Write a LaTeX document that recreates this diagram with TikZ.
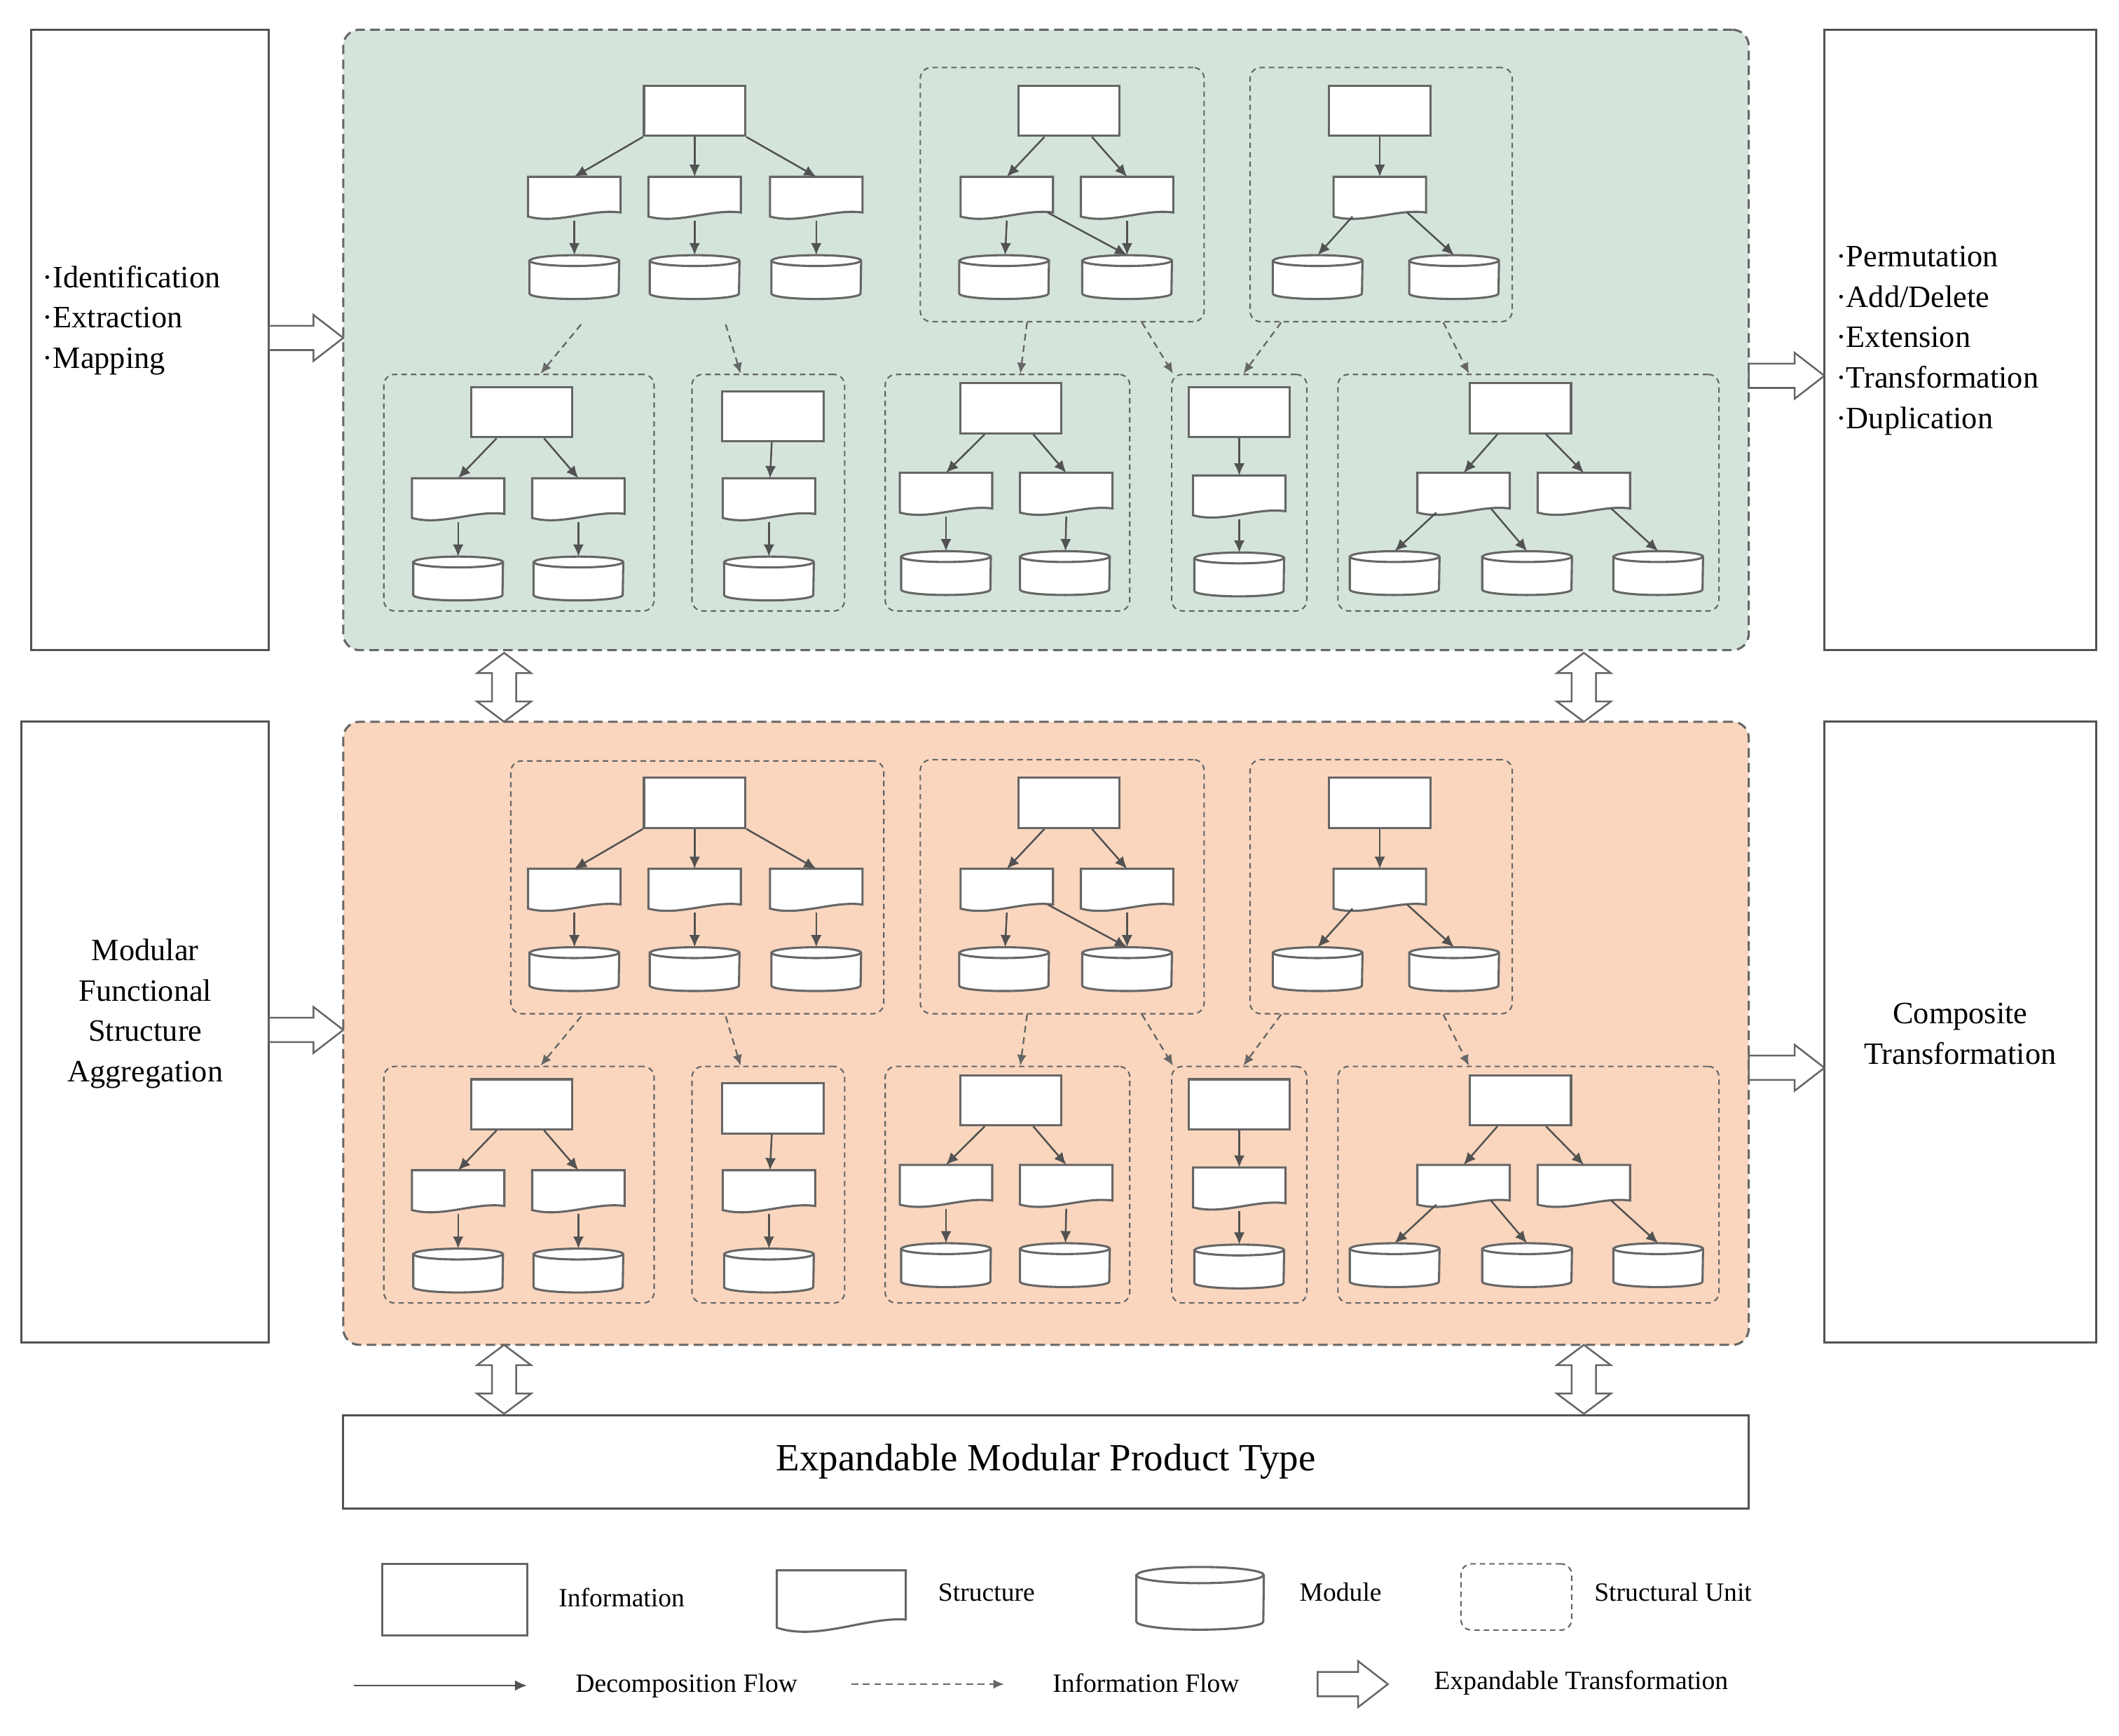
\documentclass[tikz,border=0pt]{standalone}
\usepackage{fontspec}
\setmainfont{Liberation Serif}
\usetikzlibrary{arrows.meta,calc}
\definecolor{ln}{HTML}{666666}
\definecolor{gr}{HTML}{D4E4DA}
\definecolor{og}{HTML}{FAD6BE}
\tikzset{
 info/.style={draw=ln,line width=1.6pt,fill=white,minimum width=75pt,minimum height=37pt,inner sep=0pt},
 stn/.style={minimum width=68pt,minimum height=32pt,inner sep=0pt},
 cyn/.style={minimum width=66pt,minimum height=32pt,inner sep=0pt},
 shp/.style={draw=ln,line width=1.6pt,fill=white},
 dec/.style={draw=ln!80!black,line width=1.3pt,-{Latex[length=9pt,width=8pt]}},
 flow/.style={draw=ln,line width=1.2pt,dash pattern=on 5pt off 3.5pt,-{Latex[length=8pt,width=7pt]}},
 unit/.style={draw=ln,line width=1.1pt,dash pattern=on 4pt off 3pt,rounded corners=8pt,inner sep=0pt},
 panel/.style={draw=ln,line width=1.6pt,dash pattern=on 7pt off 4pt,rounded corners=12pt},
 side/.style={draw=ln!80!black,line width=1.6pt,fill=white},
 hol/.style={draw=ln,line width=1.3pt,fill=white},
 txt/.style={font=\fontsize{23}{30}\selectfont},
 leg/.style={font=\fontsize{19.5}{22}\selectfont}
}
\newcommand\infobox[3]{\node[info] (#1) at (#2,#3) {};}
\newcommand\stru[3]{\node[stn] (#1) at (#2,#3) {};
 \draw[shp] (#1.north west) -- (#1.north east) -- ([yshift=6pt]#1.south east)
  .. controls ([xshift=-22pt,yshift=9pt]#1.south east) and ([xshift=22pt,yshift=-3pt]#1.south west) .. ([yshift=3pt]#1.south west) -- cycle;}
\newcommand\cyl[3]{\node[cyn] (#1) at (#2,#3) {};
 \draw[shp] ([yshift=-4pt]#1.north west) -- ([yshift=4pt]#1.south west) arc[start angle=180,end angle=360,x radius=33pt,y radius=4pt] -- ([yshift=-4pt]#1.north east) arc[start angle=0,end angle=180,x radius=33pt,y radius=4pt] -- cycle;
 \draw[draw=ln,line width=1.6pt] ([yshift=-4pt]#1.north west) arc[start angle=180,end angle=360,x radius=33pt,y radius=4pt];}
\newcommand\harr[3]{\draw[hol] (#1,#2-9) -- (#1+#3-22,#2-9) -- (#1+#3-22,#2-17) -- (#1+#3,#2) -- (#1+#3-22,#2+17) -- (#1+#3-22,#2+9) -- (#1,#2+9) -- cycle;}
\newcommand\varr[3]{\draw[hol] (#1-9,#2+15) -- (#1-20,#2+15) -- (#1,#2) -- (#1+20,#2+15) -- (#1+9,#2+15) -- (#1+9,#3-15) -- (#1+20,#3-15) -- (#1,#3) -- (#1-20,#3-15) -- (#1-9,#3-15) -- cycle;}
\newcommand\contents[2]{%
 \infobox{#1Ai}{514}{82+#2}
 \stru{#1As1}{425}{147+#2}\stru{#1As2}{514}{147+#2}\stru{#1As3}{604}{147+#2}
 \cyl{#1Ac1}{425}{205+#2}\cyl{#1Ac2}{514}{205+#2}\cyl{#1Ac3}{604}{205+#2}
 \draw[dec] (#1Ai.south west) -- (#1As1.north);\draw[dec] (#1Ai) -- (#1As2);\draw[dec] (#1Ai.south east) -- (#1As3.north);
 \draw[dec] (#1As1.south) -- (#1Ac1);\draw[dec] (#1As2.south) -- (#1Ac2);\draw[dec] (#1As3.south) -- (#1Ac3);
 \node[unit,minimum width=210pt,minimum height=188pt] (#1Bu) at (786,144+#2) {};
 \infobox{#1Bi}{791}{82+#2}
 \stru{#1Bs1}{745}{147+#2}\stru{#1Bs2}{834}{147+#2}
 \cyl{#1Bc1}{743}{205+#2}\cyl{#1Bc2}{834}{205+#2}
 \draw[dec] (#1Bi) -- (#1Bs1.north);\draw[dec] (#1Bi) -- (#1Bs2.north);
 \draw[dec] (#1Bs1.south) -- (#1Bc1);\draw[dec] ([xshift=-4pt,yshift=6pt]#1Bs1.south east) -- (#1Bc2.north);\draw[dec] (#1Bs2.south) -- (#1Bc2);
 \node[unit,minimum width=194pt,minimum height=188pt] (#1Cu) at (1022,144+#2) {};
 \infobox{#1Ci}{1021}{82+#2}
 \stru{#1Cs1}{1021}{147+#2}
 \cyl{#1Cc1}{975}{205+#2}\cyl{#1Cc2}{1076}{205+#2}
 \draw[dec] (#1Ci) -- (#1Cs1);
 \draw[dec] ([xshift=14pt,yshift=3pt]#1Cs1.south west) -- (#1Cc1.north);\draw[dec] ([xshift=-14pt,yshift=6pt]#1Cs1.south east) -- (#1Cc2.north);
 \node[unit,minimum width=200pt,minimum height=175pt] (#1U1) at (384,364.5+#2) {};
 \infobox{#1U1i}{386}{305+#2}
 \stru{#1U1s1}{339}{370+#2}\stru{#1U1s2}{428}{370+#2}
 \cyl{#1U1c1}{339}{428+#2}\cyl{#1U1c2}{428}{428+#2}
 \draw[dec] (#1U1i) -- (#1U1s1.north);\draw[dec] (#1U1i) -- (#1U1s2.north);
 \draw[dec] (#1U1s1.south) -- (#1U1c1);\draw[dec] (#1U1s2.south) -- (#1U1c2);
 \node[unit,minimum width=113pt,minimum height=175pt] (#1U2) at (568.5,364.5+#2) {};
 \infobox{#1U2i}{572}{308+#2}\stru{#1U2s1}{569}{370+#2}\cyl{#1U2c1}{569}{428+#2}
 \draw[dec] (#1U2i) -- (#1U2s1);\draw[dec] (#1U2s1.south) -- (#1U2c1);
 \node[unit,minimum width=181pt,minimum height=175pt] (#1U3) at (745.5,364.5+#2) {};
 \infobox{#1U3i}{748}{302+#2}
 \stru{#1U3s1}{700}{366+#2}\stru{#1U3s2}{789}{366+#2}
 \cyl{#1U3c1}{700}{424+#2}\cyl{#1U3c2}{788}{424+#2}
 \draw[dec] (#1U3i) -- (#1U3s1.north);\draw[dec] (#1U3i) -- (#1U3s2.north);
 \draw[dec] (#1U3s1.south) -- (#1U3c1);\draw[dec] (#1U3s2.south) -- (#1U3c2);
 \node[unit,minimum width=100pt,minimum height=175pt] (#1U4) at (917,364.5+#2) {};
 \infobox{#1U4i}{917}{305+#2}\stru{#1U4s1}{917}{368+#2}\cyl{#1U4c1}{917}{425+#2}
 \draw[dec] (#1U4i) -- (#1U4s1);\draw[dec] (#1U4s1.south) -- (#1U4c1);
 \node[unit,minimum width=282pt,minimum height=175pt] (#1U5) at (1131,364.5+#2) {};
 \infobox{#1U5i}{1125}{302+#2}
 \stru{#1U5s1}{1083}{366+#2}\stru{#1U5s2}{1172}{366+#2}
 \cyl{#1U5c1}{1032}{424+#2}\cyl{#1U5c2}{1130}{424+#2}\cyl{#1U5c3}{1227}{424+#2}
 \draw[dec] (#1U5i) -- (#1U5s1.north);\draw[dec] (#1U5i) -- (#1U5s2.north);
 \draw[dec] ([xshift=14pt,yshift=3pt]#1U5s1.south west) -- (#1U5c1.north);\draw[dec] ([xshift=-14pt,yshift=6pt]#1U5s1.south east) -- (#1U5c2.north);\draw[dec] ([xshift=-14pt,yshift=6pt]#1U5s2.south east) -- (#1U5c3.north);
 \coordinate (#1f1) at (430,240+#2);\coordinate (#1f2) at (537,240+#2);
 \draw[flow] (#1f1) -- (#1U1.north -| 400,0);
 \draw[flow] (#1f2) -- (#1U2.north -| 548,0);
 \draw[flow] (#1Bu.south -| 760,0) -- (#1U3.north -| 755,0);
 \draw[flow] (#1Bu.south -| 845,0) -- (#1U4.north -| 868,0);
 \draw[flow] (#1Cu.south -| 948,0) -- (#1U4.north -| 920,0);
 \draw[flow] (#1Cu.south -| 1068,0) -- (#1U5.north -| 1087,0);
}
\begin{document}
\begin{tikzpicture}[x=1pt,y=-1pt]
\useasboundingbox (0,0) rectangle (1568,1284);
\fill[white] (0,0) rectangle (1568,1284);
\node[side,minimum width=176pt,minimum height=459pt] (L1) at (111,251.5) {};
\node[side,minimum width=183pt,minimum height=459pt] (L2) at (107.5,763.5) {};
\node[side,minimum width=201pt,minimum height=459pt] (R1) at (1450.5,251.5) {};
\node[side,minimum width=201pt,minimum height=459pt] (R2) at (1450.5,763.5) {};
\node[txt,align=left,anchor=west] (t1) at (28,237) {·Identification\\·Extraction\\·Mapping};
\node[txt,align=left,anchor=west] (t2) at (1355,252) {·Permutation\\·Add/Delete\\·Extension\\·Transformation\\·Duplication};
\node[txt,align=center] (t3) at (107.5,750) {Modular\\Functional\\Structure\\Aggregation};
\node[txt,align=center] (t4) at (1450.5,765) {Composite\\Transformation};
\node[panel,fill=gr,minimum width=1040pt,minimum height=459pt] (P1) at (774,251.5) {};
\node[panel,fill=og,minimum width=1040pt,minimum height=461pt] (P2) at (774,764.5) {};
\node[unit,minimum width=276pt,minimum height=187pt] (oAu) at (516,656.5) {};
\contents{g}{0}
\contents{o}{512}
\node[side,minimum width=1040pt,minimum height=69pt,font=\fontsize{28.5}{32}\selectfont] (B) at (774,1081.5) {Expandable Modular Product Type};
\harr{199}{250}{55}
\harr{1294}{278}{56}
\harr{199}{762}{55}
\harr{1294}{790}{56}
\varr{373}{483}{534}
\varr{1172}{483}{534}
\varr{373}{995}{1046}
\varr{1172}{995}{1046}
\node[info,minimum width=107pt,minimum height=53pt] (lg1) at (336.5,1183.5) {};
\node[leg] (lt1) at (460,1182) {Information};
\node[stn,minimum width=95pt,minimum height=46pt] (lg2) at (622.5,1185) {};
\draw[shp] (lg2.north west) -- (lg2.north east) -- ([yshift=10pt]lg2.south east)
  .. controls ([xshift=-30pt,yshift=12pt]lg2.south east) and ([xshift=30pt,yshift=-6pt]lg2.south west) .. ([yshift=4pt]lg2.south west) -- cycle;
\node[leg] (lt2) at (730,1178) {Structure};
\node[minimum width=94pt,minimum height=46pt,inner sep=0pt] (lg3) at (888,1182.5) {};
\draw[shp] ([yshift=-6pt]lg3.north west) -- ([yshift=6pt]lg3.south west) arc[start angle=180,end angle=360,x radius=47pt,y radius=6pt] -- ([yshift=-6pt]lg3.north east) arc[start angle=0,end angle=180,x radius=47pt,y radius=6pt] -- cycle;
\draw[draw=ln,line width=1.6pt] ([yshift=-6pt]lg3.north west) arc[start angle=180,end angle=360,x radius=47pt,y radius=6pt];
\node[leg] (lt3) at (992,1178) {Module};
\node[unit,minimum width=82pt,minimum height=49pt] (lg4) at (1122,1181.5) {};
\node[leg] (lt4) at (1238,1178) {Structural Unit};
\coordinate (a1) at (262,1247);\coordinate (a2) at (390,1247);
\draw[dec] (a1) -- (a2);
\node[leg] (lt5) at (508,1247) {Decomposition Flow};
\coordinate (a3) at (630,1246);\coordinate (a4) at (743,1246);
\draw[flow] (a3) -- (a4);
\node[leg] (lt6) at (848,1245) {Information Flow};
\harr{975}{1246}{52}
\node[leg] (lt7) at (1170,1245) {Expandable Transformation};
\end{tikzpicture}
\end{document}
